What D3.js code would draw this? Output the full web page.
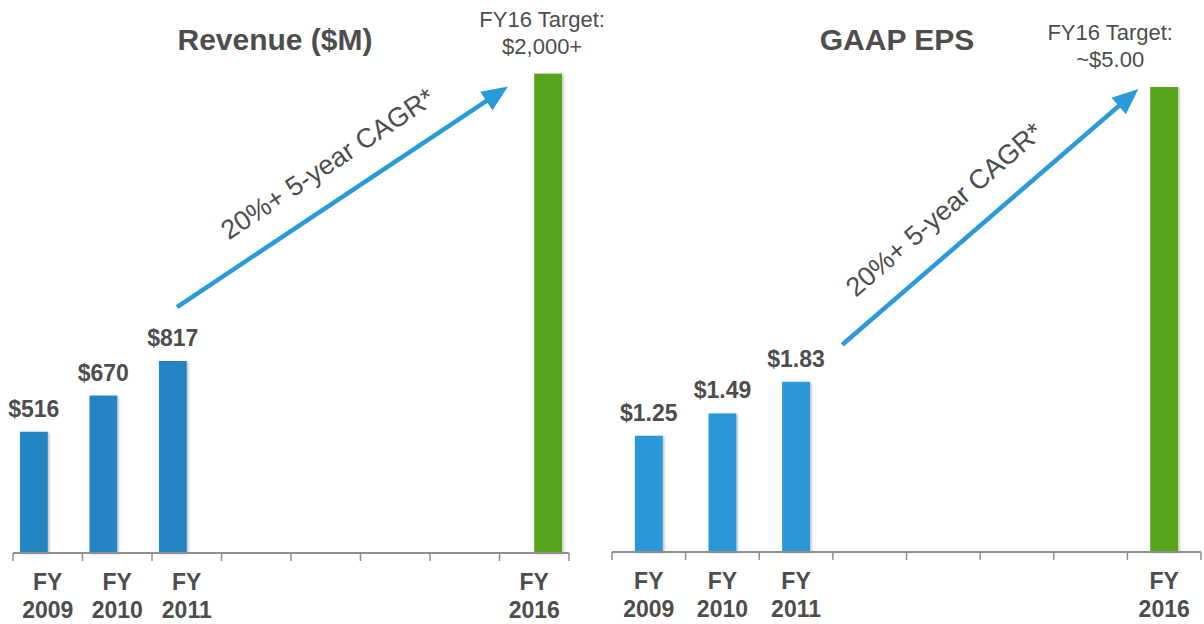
<!DOCTYPE html>
<head>
  <meta charset="utf-8">
  <script src="https://d3js.org/d3.v7.min.js"></script>
  <style>
    body {
        margin: 0;
        background: #fff;
        font-family: "Liberation Sans", Arial, Helvetica, sans-serif;
    }
    text { fill: #4d4d4d; }
    .title { font-size: 30px; font-weight: bold; }
    .value { font-size: 23px; font-weight: bold; }
    .cat { font-size: 23px; font-weight: bold; }
    .target { font-size: 22px; }
    .cagr { font-size: 27px; }
</style>
<body>
  <script>

    // data
    const axisYears = [2009, 2010, 2011, 2012, 2013, 2014, 2015, 2016];
    const years = [2009, 2010, 2011, 2016];
    const kinds = ["actual", "actual", "actual", "target"];
    const revenue = [516, 670, 817, 2040];
    const revenueLabels = ["$516", "$670", "$817"];
    const eps = [1.25, 1.49, 1.83, 5.0];
    const epsLabels = ["$1.25", "$1.49", "$1.83"];
    const revenueTarget = ["FY16 Target:", "$2,000+"];
    const epsTarget = ["FY16 Target:", "~$5.00"];
    const cagrText = "20%+ 5-year CAGR*";

    const W = 1204, H = 624;
    const axisColor = "#8f8f8f";
    const arrowColor = "#2b9ad8";
    const greenColor = "#56a51e";

    const svg = d3.select("body").append("svg")
        .attr("width", W)
        .attr("height", H);

    const defs = svg.append("defs");
    defs.append("filter")
        .attr("id", "shadow")
        .attr("x", "-30%").attr("y", "-5%")
        .attr("width", "160%").attr("height", "110%")
      .append("feDropShadow")
        .attr("dx", 1.5).attr("dy", 1)
        .attr("stdDeviation", 1.2)
        .attr("flood-color", "#000")
        .attr("flood-opacity", 0.25);

    const panels = [
        {
            title: "Revenue ($M)", titleX: 275,
            values: revenue, labels: revenueLabels, target: revenueTarget,
            xRange: [13, 569], baseline: 553, yMax: 2000, yTop: 83,
            barColor: "#2484c3", grouped: true,
            targetDx: -6,
            arrow: { from: [2011, 25, 2, -54], to: [2016, 8.5, 3, 13], along: 6, perp: 36 }
        },
        {
            title: "GAAP EPS", titleX: 897,
            values: eps, labels: epsLabels, target: epsTarget,
            xRange: [612, 1201], baseline: 552, yMax: 5, yTop: 87,
            barColor: "#2b98d8", grouped: false,
            targetDx: -54,
            arrow: { from: [2011, 83, 2, -37], to: [2016, 11, 3, 2], along: -30, perp: 36 }
        }
    ];

    panels.forEach(p => drawPanel(p));

    function drawPanel(p) {
        const g = svg.append("g");

        const x = d3.scaleBand()
            .domain(axisYears)
            .range(p.xRange)
            .padding(0);

        const x1 = d3.scaleBand()
            .domain(p.grouped ? ["actual", "target"] : ["bar"])
            .range([0, x.bandwidth()])
            .paddingInner(0)
            .paddingOuter(p.grouped ? 0.25 : 0.82);

        const y = d3.scaleLinear()
            .domain([0, p.yMax])
            .range([p.baseline, p.yTop]);

        const rows = years.map((yr, i) => ({
            year: yr, kind: kinds[i], value: p.values[i], label: p.labels[i]
        }));
        const barX = d => x(d.year) + x1(p.grouped ? d.kind : "bar");

        // title
        g.append("text")
            .attr("class", "title")
            .attr("x", p.titleX)
            .attr("y", 50)
            .attr("text-anchor", "middle")
            .text(p.title);

        // bars
        g.selectAll(".bar")
            .data(rows)
            .enter().append("rect")
            .attr("class", "bar")
            .attr("x", barX)
            .attr("width", x1.bandwidth())
            .attr("y", d => y(d.value))
            .attr("height", d => p.baseline - y(d.value))
            .attr("filter", "url(#shadow)")
            .style("fill", d => d.kind === "target" ? greenColor : p.barColor);

        // value labels
        g.selectAll(".value")
            .data(rows.filter(d => d.label))
            .enter().append("text")
            .attr("class", "value")
            .attr("x", d => barX(d) + x1.bandwidth() / 2)
            .attr("y", d => y(d.value) - 15)
            .attr("text-anchor", "middle")
            .text(d => d.label);

        // target label
        const tgt = rows.find(d => d.kind === "target");
        const tx = barX(tgt) + x1.bandwidth() / 2 + p.targetDx;
        g.append("text")
            .attr("class", "target")
            .attr("x", tx).attr("y", y(tgt.value) - 47)
            .attr("text-anchor", "middle")
            .text(p.target[0]);
        g.append("text")
            .attr("class", "target")
            .attr("x", tx).attr("y", y(tgt.value) - 20)
            .attr("text-anchor", "middle")
            .text(p.target[1]);

        // axis line + ticks on band edges
        g.append("line")
            .attr("x1", p.xRange[0]).attr("x2", p.xRange[1])
            .attr("y1", p.baseline).attr("y2", p.baseline)
            .style("stroke", axisColor).style("stroke-width", 2);
        const edges = axisYears.map(d => x(d)).concat([p.xRange[1]]);
        g.selectAll(".tick-mark")
            .data(edges)
            .enter().append("line")
            .attr("class", "tick-mark")
            .attr("x1", d => d).attr("x2", d => d)
            .attr("y1", p.baseline).attr("y2", p.baseline + 8)
            .style("stroke", axisColor).style("stroke-width", 1.5);

        // category labels
        const cats = g.selectAll(".cat")
            .data(years)
            .enter().append("text")
            .attr("class", "cat")
            .attr("text-anchor", "middle")
            .attr("x", d => x(d) + x.bandwidth() / 2);
        cats.append("tspan")
            .attr("x", d => x(d) + x.bandwidth() / 2)
            .attr("y", p.baseline + 37)
            .text("FY");
        cats.append("tspan")
            .attr("x", d => x(d) + x.bandwidth() / 2)
            .attr("y", p.baseline + 65)
            .text(d => d);

        // CAGR arrow
        const a = p.arrow;
        const valOf = yr => rows.find(d => d.year === yr).value;
        const x0 = x(a.from[0]) + a.from[1], y0 = y(valOf(a.from[0])) + a.from[3];
        const xe = x(a.to[0]) + a.to[1], ye = y(valOf(a.to[0])) + a.to[3];
        const ang = Math.atan2(ye - y0, xe - x0);
        const headLen = 26, headW = 11;
        const bx = xe - headLen * Math.cos(ang), by = ye - headLen * Math.sin(ang);
        g.append("line")
            .attr("x1", x0).attr("y1", y0)
            .attr("x2", bx + 2 * Math.cos(ang)).attr("y2", by + 2 * Math.sin(ang))
            .style("stroke", arrowColor)
            .style("stroke-width", 4.5);
        const nx = -Math.sin(ang), ny = Math.cos(ang);
        g.append("path")
            .attr("d", d3.line()([
                [xe, ye],
                [bx + nx * headW, by + ny * headW],
                [bx - nx * headW, by - ny * headW]
            ]) + "Z")
            .style("fill", arrowColor);

        const mx = (x0 + xe) / 2, my = (y0 + ye) / 2;
        const cx = mx + a.along * Math.cos(ang) + a.perp * Math.sin(ang);
        const cy = my + a.along * Math.sin(ang) - a.perp * Math.cos(ang);
        g.append("text")
            .attr("class", "cagr")
            .attr("text-anchor", "middle")
            .attr("dy", "0.35em")
            .attr("transform", "translate(" + cx + "," + cy + ") rotate(" + (ang * 180 / Math.PI) + ")")
            .text(cagrText);
    }
  </script>
</body>
